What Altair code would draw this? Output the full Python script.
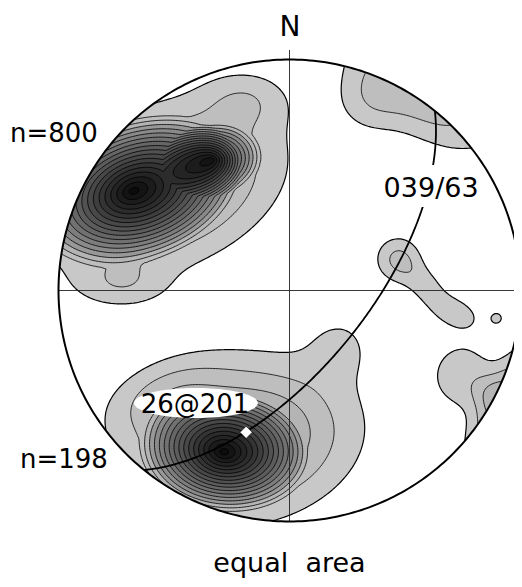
import math
import numpy as np
import altair as alt

# ---------------- values ----------------
# density kernels in net units (primitive radius = 1, x = east, y = north)
# kind: 0 = cone core, 2 = gaussian lobe
K_X   = [-0.677, -0.335, -0.561, -0.193, -0.725,   -0.284, -0.214, 0.219, -0.539,   0.587, 0.348,   0.470, 0.587, 0.716,   0.747, 0.909, 0.859, 0.898]
K_Y   = [0.431, 0.565, 0.444, 0.825, 0.024,   -0.699, -0.647, -0.236, -0.452,   0.870, 0.825,   0.136, 0.024, -0.093,   -0.366, -0.484, -0.439, -0.119]
K_AMP = [14, 11, 5, 1.4, 1.3,   14, 5, 1.0, 1.5,   3.0, 1.2,   2.2, 1.4, 1.4,   1.5, 2.6, 1.3, 1.15]
K_SX  = [0.476, 0.216, 0.320, 0.130, 0.139,   0.368, 0.303, 0.104, 0.173,   0.24, 0.10,   0.069, 0.08, 0.085,   0.11, 0.20, 0.06, 0.025]
K_SY  = [0.312, 0.156, 0.199, 0.087, 0.070,   0.260, 0.208, 0.104, 0.095,   0.13, 0.10,   0.069, 0.05, 0.05,   0.12, 0.055, 0.06, 0.025]
K_ANG = [19, 10, 20, 0, 0,   -8, 10, 0, 20,   -34, 0,   0, -45, -20,   0, 62, 0, 0]
K_KIND = [0, 0, 2, 2, 2,   0, 2, 2, 2,   2, 2,   2, 2, 2,   2, 2, 2, 2]

LEVELS = list(range(1, 21))
LEVEL_GREY = [200, 190, 180, 152, 138, 125, 113, 102, 92, 82, 72, 62, 52, 44, 36, 28, 20, 12, 5, 0]

PLANE_STRIKE, PLANE_DIP = 39, 63
DIAMOND_TREND, DIAMOND_PLUNGE = 197, 36

LABEL_TEXT = ["N", "039/63", "26@201", "equal\u00a0\u00a0area"]
LABEL_LON  = [0.002, 0.613, -0.409, 0.0]
LABEL_LAT  = [1.102, 0.405, -0.530, -1.219]
LABEL_SIZE = [28, 27, 26, 27]
SIDE_TEXT  = ["n=800", "n=198"]
SIDE_LON   = [-1.210, -1.167]
SIDE_LAT   = [0.643, -0.768]

# label backgrounds: box for the plane label, ellipse for the maximum label
BOX_LON = [0.383, 0.842]
BOX_LAT = [0.361, 0.543]
ELL_C = [-0.405, -0.487]
ELL_AX = [0.268, 0.065]

# ---------------- density field and contours ----------------
NG = 361
EXT = 1.2
xs = np.linspace(-EXT, EXT, NG)
ys = np.linspace(-EXT, EXT, NG)
X, Y = np.meshgrid(xs, ys)
F = np.zeros_like(X)
for x0, y0, a, sx, sy, ang, kind in zip(K_X, K_Y, K_AMP, K_SX, K_SY, K_ANG, K_KIND):
    t = math.radians(ang)
    dx, dy = X - x0, Y - y0
    u = (dx * math.cos(t) + dy * math.sin(t)) / sx
    v = (-dx * math.sin(t) + dy * math.cos(t)) / sy
    d = np.sqrt(u * u + v * v)
    if kind == 0:
        F += a * np.clip(1 - d, 0, None)
    else:
        F += a * np.exp(-d * d / 2)
F[0, :] = -1
F[-1, :] = -1
F[:, 0] = -1
F[:, -1] = -1


def contour_rings(F, L):
    B = F >= L
    c = B[:-1, :-1].astype(int) + B[:-1, 1:] + B[1:, 1:] + B[1:, :-1]
    ii, jj = np.nonzero((c > 0) & (c < 4))
    nxt, pts = {}, {}
    for i, j in zip(ii, jj):
        corners = [(i, j), (i, j + 1), (i + 1, j + 1), (i + 1, j)]
        keys = [('h', i, j), ('v', i, j + 1), ('h', i + 1, j), ('v', i, j)]
        cr = []
        for k in range(4):
            a = corners[k]
            b = corners[(k + 1) % 4]
            fa, fb = F[a], F[b]
            ha, hb = fa >= L, fb >= L
            if ha != hb:
                t = (L - fa) / (fb - fa)
                x = xs[a[1]] + t * (xs[b[1]] - xs[a[1]])
                y = ys[a[0]] + t * (ys[b[0]] - ys[a[0]])
                pts[keys[k]] = (round(float(x), 4), round(float(y), 4))
                cr.append((keys[k], 'B' if ha else 'A'))
        if len(cr) == 2:
            ka = [k for k, tp in cr if tp == 'A'][0]
            kb = [k for k, tp in cr if tp == 'B'][0]
            nxt[kb] = ka
        elif len(cr) == 4:
            while cr[0][1] != 'A':
                cr = cr[1:] + cr[:1]
            A1, B1, A2, B2 = [k for k, _ in cr]
            center = (F[i, j] + F[i, j + 1] + F[i + 1, j + 1] + F[i + 1, j]) / 4
            if center >= L:
                nxt[B1] = A2
                nxt[B2] = A1
            else:
                nxt[B1] = A1
                nxt[B2] = A2
    rings, seen = [], set()
    for s in nxt:
        if s in seen:
            continue
        ring, k = [], s
        while k not in seen and k in nxt:
            seen.add(k)
            ring.append(list(pts[k]))
            k = nxt[k]
        if len(ring) > 3:
            ring.append(ring[0])
            rings.append(ring)
    return rings


contour_feats = []
for idx, L in enumerate(LEVELS):
    rings = contour_rings(F, L)
    if not rings:
        continue
    g = LEVEL_GREY[idx]
    contour_feats.append({
        "type": "Feature",
        "properties": {"level": L, "fill": "#%02x%02x%02x" % (g, g, g),
                       "sw": 1.2 if idx == 0 else 0.8},
        "geometry": {"type": "Polygon", "coordinates": rings},
    })

circ = [[round(math.cos(math.radians(a)), 5), round(math.sin(math.radians(a)), 5)] for a in range(0, 361)]
mask_feat = [{"type": "Feature", "properties": {},
              "geometry": {"type": "Polygon",
                           "coordinates": [[[-3, -3], [3, -3], [3, 3], [-3, 3], [-3, -3]], circ[::-1]]}}]
circle_feat = [{"type": "Feature", "properties": {}, "geometry": {"type": "LineString", "coordinates": circ}}]
cross_feat = [{"type": "Feature", "properties": {},
               "geometry": {"type": "MultiLineString",
                            "coordinates": [[[-1, 0], [1, 0]], [[0, 1.041], [0, -1]]]}}]


def equal_area(trend, plunge):
    r = math.sqrt(2) * math.sin(math.radians(90 - plunge) / 2)
    return [r * math.sin(math.radians(trend)), r * math.cos(math.radians(trend))]


s_vec = (math.cos(math.radians(PLANE_STRIKE)), math.sin(math.radians(PLANE_STRIKE)), 0.0)
dd = PLANE_STRIKE + 90
d_vec = (math.cos(math.radians(PLANE_DIP)) * math.cos(math.radians(dd)),
         math.cos(math.radians(PLANE_DIP)) * math.sin(math.radians(dd)),
         math.sin(math.radians(PLANE_DIP)))
gc = []
for k in range(0, 181):
    ph = math.radians(k)
    vn = math.cos(ph) * s_vec[0] + math.sin(ph) * d_vec[0]
    ve = math.cos(ph) * s_vec[1] + math.sin(ph) * d_vec[1]
    vd = math.cos(ph) * s_vec[2] + math.sin(ph) * d_vec[2]
    tr = math.degrees(math.atan2(ve, vn))
    pl = math.degrees(math.asin(max(-1, min(1, vd))))
    gc.append(equal_area(tr, pl))
gc_feat = [{"type": "Feature", "properties": {}, "geometry": {"type": "LineString", "coordinates": gc}}]

box = [[BOX_LON[0], BOX_LAT[0]], [BOX_LON[1], BOX_LAT[0]], [BOX_LON[1], BOX_LAT[1]],
       [BOX_LON[0], BOX_LAT[1]], [BOX_LON[0], BOX_LAT[0]]]
ell = [[ELL_C[0] + ELL_AX[0] * math.cos(math.radians(a)), ELL_C[1] + ELL_AX[1] * math.sin(math.radians(a))]
       for a in range(0, 361, 4)]
bg_feat = [{"type": "Feature", "properties": {}, "geometry": {"type": "Polygon", "coordinates": [box]}},
           {"type": "Feature", "properties": {}, "geometry": {"type": "Polygon", "coordinates": [ell]}}]

dpos = equal_area(DIAMOND_TREND, DIAMOND_PLUNGE)
diamond_data = [{"lon": dpos[0], "lat": dpos[1]}]
label_data = [{"t": t, "lon": lo, "lat": la, "s": s}
              for t, lo, la, s in zip(LABEL_TEXT, LABEL_LON, LABEL_LAT, LABEL_SIZE)]
side_data = [{"t": t, "lon": lo, "lat": la} for t, lo, la in zip(SIDE_TEXT, SIDE_LON, SIDE_LAT)]

PROJ = dict(type="identity", reflectY=True, scale=231, translate=[281.5, 282.5])
FONT = "DejaVu Sans"

contours = alt.Chart(alt.Data(values=contour_feats)).mark_geoshape(stroke="black").encode(
    fill=alt.Fill("properties.fill:N", scale=None),
    strokeWidth=alt.StrokeWidth("properties.sw:Q", scale=None),
).project(**PROJ)

mask = alt.Chart(alt.Data(values=mask_feat)).mark_geoshape(fill="white", strokeWidth=0).project(**PROJ)

cross = alt.Chart(alt.Data(values=cross_feat)).mark_geoshape(
    filled=False, stroke="#222222", strokeWidth=0.9).project(**PROJ)

great = alt.Chart(alt.Data(values=gc_feat)).mark_geoshape(
    filled=False, stroke="black", strokeWidth=1.8).project(**PROJ)

bgs = alt.Chart(alt.Data(values=bg_feat)).mark_geoshape(fill="white", strokeWidth=0).project(**PROJ)

primitive = alt.Chart(alt.Data(values=circle_feat)).mark_geoshape(
    filled=False, stroke="black", strokeWidth=2).project(**PROJ)

diamond = alt.Chart(alt.Data(values=diamond_data)).mark_point(
    shape="diamond", filled=True, fill="white", stroke="black", strokeWidth=0.6, size=150, opacity=1
).encode(longitude="lon:Q", latitude="lat:Q").project(**PROJ)

labels = alt.Chart(alt.Data(values=label_data)).mark_text(
    font=FONT, align="center", baseline="alphabetic", color="black"
).encode(longitude="lon:Q", latitude="lat:Q", text="t:N",
         size=alt.Size("s:Q", scale=None)).project(**PROJ)

sides = alt.Chart(alt.Data(values=side_data)).mark_text(
    font=FONT, fontSize=26, align="left", baseline="alphabetic", color="black"
).encode(longitude="lon:Q", latitude="lat:Q", text="t:N").project(**PROJ)

chart = alt.layer(contours, mask, cross, great, bgs, primitive, diamond, labels, sides).properties(
    width=506, height=571, padding=0, background="white",
    autosize=alt.AutoSizeParams(type="none"),
).configure_view(stroke=None)

chart.save("out.html", embed_options={"renderer": "svg", "actions": False})
